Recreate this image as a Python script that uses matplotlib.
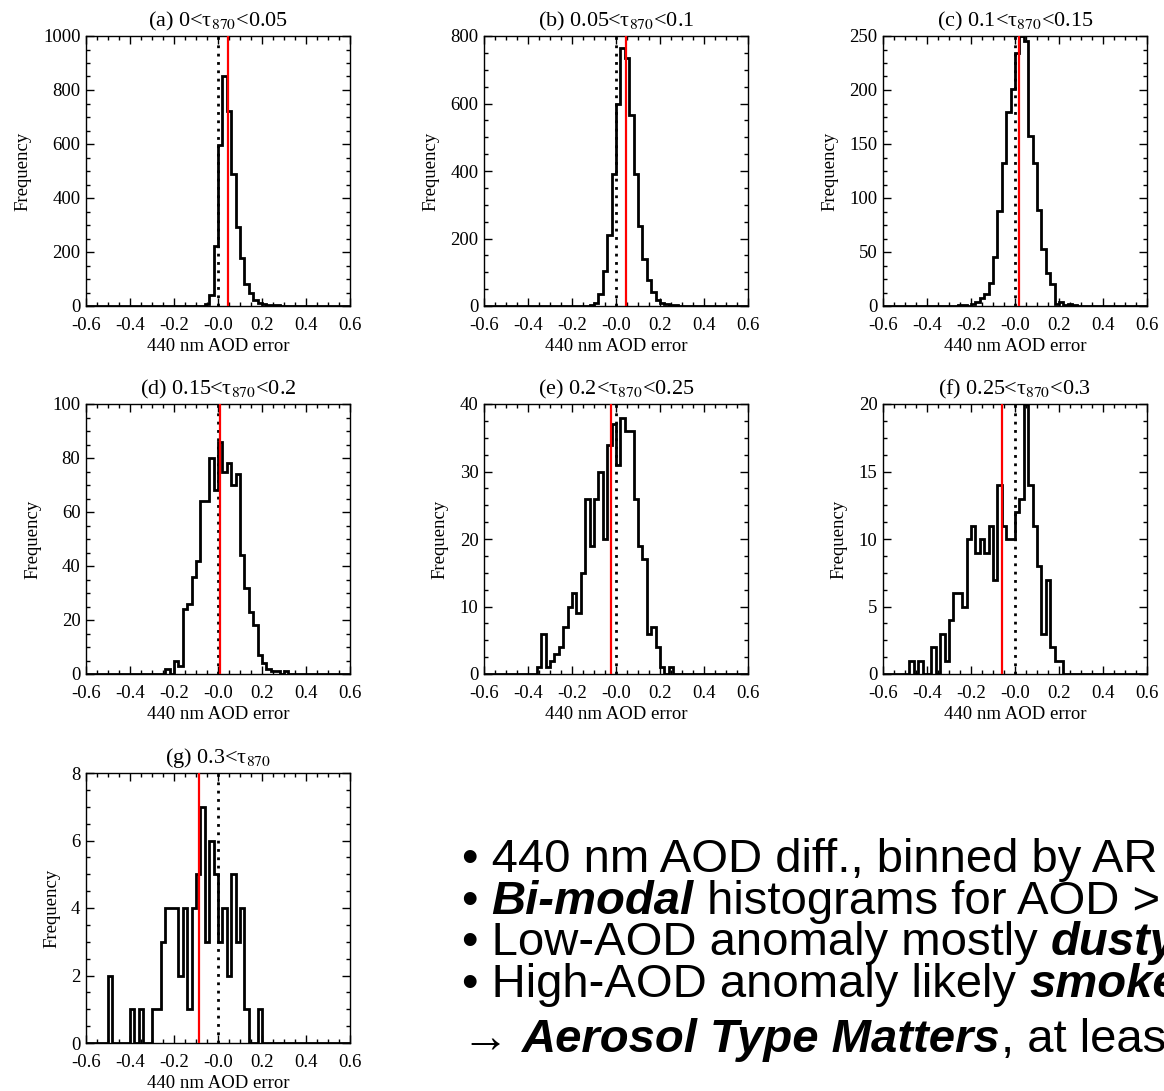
import numpy as np
import matplotlib
matplotlib.use('Agg')
import matplotlib.pyplot as plt
from matplotlib.ticker import AutoMinorLocator, FixedLocator, FixedFormatter
from matplotlib.text import Annotation

plt.rcParams['font.family'] = ['Liberation Serif', 'DejaVu Serif']
plt.rcParams['mathtext.fontset'] = 'stix'

# histogram counts, 0.02-wide bins, starting at the given left edge
a_start = -0.06
a_counts = [8, 42, 222, 596, 852, 721, 488, 291, 178, 81, 47, 22, 12, 8, 5, 3, 2, 1]
b_start = -0.14
b_counts = [1, 3, 10, 35, 105, 209, 392, 598, 764, 736, 566, 392, 237, 138, 77, 42,
            18, 10, 5, 3, 2, 1]
c_start = -0.26
c_counts = [1, 1, 0, 2, 4, 7, 11, 21, 45, 88, 132, 180, 201, 234, 250, 245, 157, 132,
            89, 53, 31, 20, 2, 4, 1, 2, 1]
d_start = -0.24
d_counts = [2, 0, 5, 3, 24, 26, 36, 42, 64, 64, 80, 68, 86, 75, 78, 70, 74, 44, 32, 23,
            18, 7, 4, 2, 1, 1, 0, 1]
e_start = -0.36
e_counts = [1, 6, 1, 2, 3, 4, 7, 10, 12, 9, 15, 26, 19, 26, 30, 20, 34, 37, 31, 38, 36,
            36, 26, 19, 17, 6, 7, 4, 1, 0, 1]
f_start = -0.48
f_counts = [1, 0, 1, 0, 0, 2, 0, 3, 1, 4, 6, 6, 5, 10, 11, 9, 10, 9, 11, 7, 14, 11, 10,
            10, 12, 13, 20, 14, 11, 8, 3, 7, 2, 1, 1]
g_start = -0.50
g_counts = [2, 0, 0, 0, 0, 1, 0, 1, 0, 0, 1, 1, 3, 4, 4, 4, 2, 4, 1, 4, 5, 7, 3, 6, 5,
            3, 4, 2, 5, 3, 4, 1, 0, 0, 1]

starts = [a_start, b_start, c_start, d_start, e_start, f_start, g_start]
counts = [a_counts, b_counts, c_counts, d_counts, e_counts, f_counts, g_counts]

# mean error (red line)
means = [0.045, 0.045, 0.018, 0.01, -0.022, -0.058, -0.085]

titles = ['(a) 0<τ$_{870}$<0.05', '(b) 0.05<τ$_{870}$<0.1', '(c) 0.1<τ$_{870}$<0.15',
          '(d) 0.15<τ$_{870}$<0.2', '(e) 0.2<τ$_{870}$<0.25', '(f) 0.25<τ$_{870}$<0.3',
          '(g) 0.3<τ$_{870}$']
ymax = [1000, 800, 250, 100, 40, 20, 8]
ystep = [200, 200, 50, 20, 10, 5, 2]

xticks = [-0.6, -0.4, -0.2, 0.0, 0.2, 0.4, 0.6]
xtick_labels = ['-0.6', '-0.4', '-0.2', '-0.0', '0.2', '0.4', '0.6']

bin_w = 0.02
edges = np.round(np.arange(-0.6, 0.6 + bin_w / 2, bin_w), 3)

W, H = 1164, 1091
fig = plt.figure(figsize=(W / 100, H / 100), dpi=100)

# axes boxes in pixels (left, top)
lefts = [86, 484, 883]
tops = [36, 404, 773]
aw, ah = 264, 270

for i in range(7):
    r, c = divmod(i, 3)
    ax = fig.add_axes([lefts[c] / W, 1 - (tops[r] + ah) / H, aw / W, ah / H])

    full = np.zeros(len(edges) - 1)
    i0 = int(round((starts[i] + 0.6) / bin_w))
    full[i0:i0 + len(counts[i])] = counts[i]
    ax.stairs(full, edges, color='black', lw=2.0, zorder=3)

    ax.axvline(0.0, color='black', lw=2.0, linestyle=(0, (1, 2)), zorder=2)
    ax.axvline(means[i], color='red', lw=1.6, zorder=4)

    ax.set_xlim(-0.6, 0.6)
    ax.set_ylim(0, ymax[i])
    ax.xaxis.set_major_locator(FixedLocator(xticks))
    ax.xaxis.set_major_formatter(FixedFormatter(xtick_labels))
    ax.set_yticks(np.arange(0, ymax[i] + 1, ystep[i]))
    ax.xaxis.set_minor_locator(AutoMinorLocator(4))
    ax.yaxis.set_minor_locator(AutoMinorLocator(4))
    ax.tick_params(which='both', direction='in', top=True, right=True, width=1.0,
                   labelsize=13.5)
    ax.tick_params(which='major', length=5.5)
    ax.tick_params(which='minor', length=3)
    ax.tick_params(axis='x', pad=8)
    ax.tick_params(axis='y', pad=4)
    for sp in ax.spines.values():
        sp.set_linewidth(1.0)

    ax.set_title(titles[i], fontsize=16, pad=7)
    ax.set_xlabel('440 nm AOD error', fontsize=13.5, labelpad=3)
    ax.set_ylabel('Frequency', fontsize=13.5, labelpad=8)

# bullet text: (string, weight, style)
bullet_lines = [
    [('• 440 nm AOD diff., binned by AR', 'normal', 'normal')],
    [('• ', 'normal', 'normal'), ('Bi-modal', 'bold', 'italic'),
     (' histograms for AOD >', 'normal', 'normal')],
    [('• Low-AOD anomaly mostly ', 'normal', 'normal'), ('dusty', 'bold', 'italic')],
    [('• High-AOD anomaly likely ', 'normal', 'normal'), ('smoke', 'bold', 'italic')],
    [('→ ', 'bold', 'normal'), ('Aerosol Type Matters', 'bold', 'italic'),
     (', at least', 'normal', 'normal')],
]
baselines = [872, 914, 955, 997, 1052]
text_x = 462

sans = ['Liberation Sans', 'DejaVu Sans']
for parts, yb in zip(bullet_lines, baselines):
    prev = None
    for s, weight, style in parts:
        kw = dict(fontsize=34, family=sans, fontweight=weight, fontstyle=style)
        if prev is None:
            prev = fig.text(text_x / W, 1 - yb / H, s, va='baseline', ha='left', **kw)
        else:
            ann = Annotation(s, xy=(1, 0), xycoords=prev, va='bottom', ha='left',
                             annotation_clip=False, **kw)
            fig.add_artist(ann)
            prev = ann

fig.savefig('out.png', dpi=100)
